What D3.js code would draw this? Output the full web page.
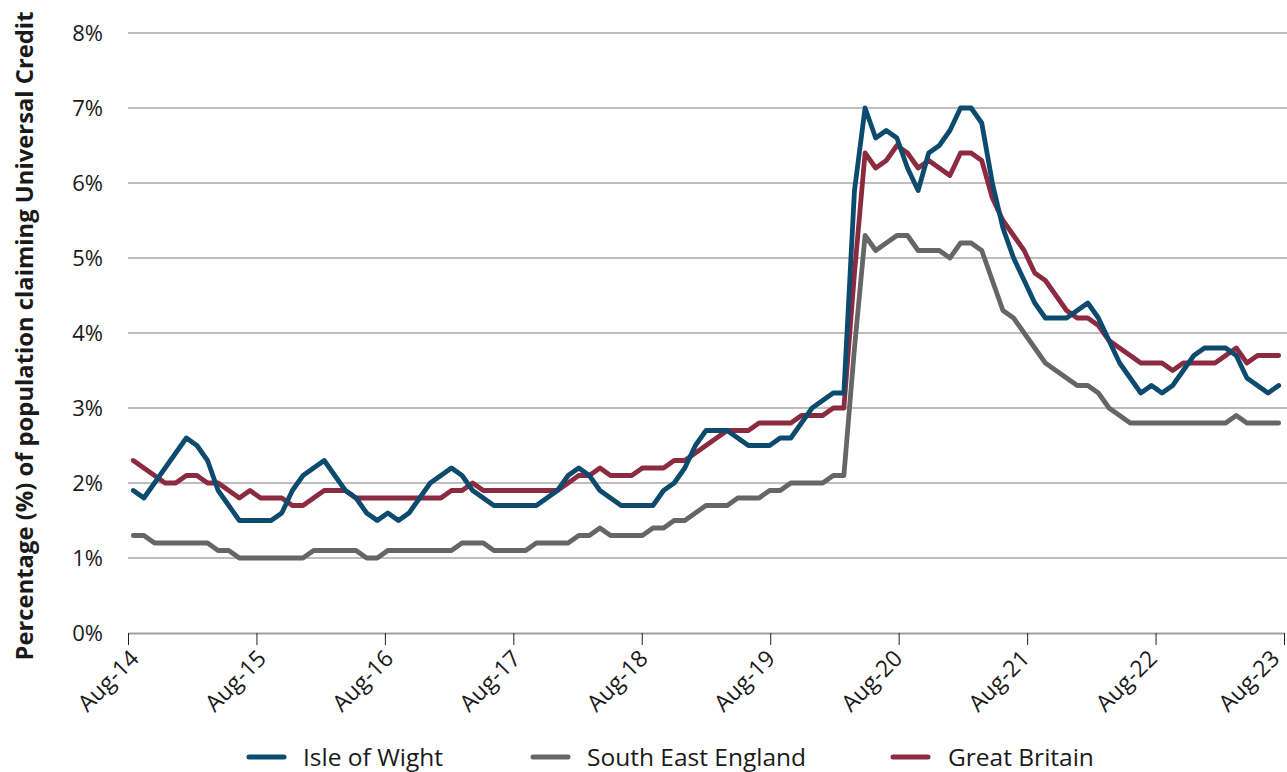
<!DOCTYPE html>
<html>
<head>
<meta charset="utf-8">
<script src="https://cdn.jsdelivr.net/npm/d3@7"></script>
<style>
  html, body { margin: 0; padding: 0; background: #ffffff; }
  svg { display: block; font-family: "Open Sans", "Noto Sans", sans-serif; }
</style>
</head>
<body>
<svg id="chart" width="1287" height="772"></svg>
<script>
// Monthly share of population claiming Universal Credit, Aug-14 to Aug-23 (%)
const tickLabels = ["Aug-14", "Aug-15", "Aug-16", "Aug-17", "Aug-18", "Aug-19", "Aug-20", "Aug-21", "Aug-22", "Aug-23"];
const yTicks = [0, 1, 2, 3, 4, 5, 6, 7, 8];

const isleOfWight = [
  1.9, 1.8, 2.0, 2.2, 2.4, 2.6, 2.5, 2.3, 1.9, 1.7, 1.5, 1.5, 1.5, 1.5, 1.6, 1.9, 2.1, 2.2,
  2.3, 2.1, 1.9, 1.8, 1.6, 1.5, 1.6, 1.5, 1.6, 1.8, 2.0, 2.1, 2.2, 2.1, 1.9, 1.8, 1.7, 1.7,
  1.7, 1.7, 1.7, 1.8, 1.9, 2.1, 2.2, 2.1, 1.9, 1.8, 1.7, 1.7, 1.7, 1.7, 1.9, 2.0, 2.2, 2.5,
  2.7, 2.7, 2.7, 2.6, 2.5, 2.5, 2.5, 2.6, 2.6, 2.8, 3.0, 3.1, 3.2, 3.2, 5.9, 7.0, 6.6, 6.7,
  6.6, 6.2, 5.9, 6.4, 6.5, 6.7, 7.0, 7.0, 6.8, 6.0, 5.4, 5.0, 4.7, 4.4, 4.2, 4.2, 4.2, 4.3,
  4.4, 4.2, 3.9, 3.6, 3.4, 3.2, 3.3, 3.2, 3.3, 3.5, 3.7, 3.8, 3.8, 3.8, 3.7, 3.4, 3.3, 3.2, 3.3
];

const southEastEngland = [
  1.3, 1.3, 1.2, 1.2, 1.2, 1.2, 1.2, 1.2, 1.1, 1.1, 1.0, 1.0, 1.0, 1.0, 1.0, 1.0, 1.0, 1.1,
  1.1, 1.1, 1.1, 1.1, 1.0, 1.0, 1.1, 1.1, 1.1, 1.1, 1.1, 1.1, 1.1, 1.2, 1.2, 1.2, 1.1, 1.1,
  1.1, 1.1, 1.2, 1.2, 1.2, 1.2, 1.3, 1.3, 1.4, 1.3, 1.3, 1.3, 1.3, 1.4, 1.4, 1.5, 1.5, 1.6,
  1.7, 1.7, 1.7, 1.8, 1.8, 1.8, 1.9, 1.9, 2.0, 2.0, 2.0, 2.0, 2.1, 2.1, 3.8, 5.3, 5.1, 5.2,
  5.3, 5.3, 5.1, 5.1, 5.1, 5.0, 5.2, 5.2, 5.1, 4.7, 4.3, 4.2, 4.0, 3.8, 3.6, 3.5, 3.4, 3.3,
  3.3, 3.2, 3.0, 2.9, 2.8, 2.8, 2.8, 2.8, 2.8, 2.8, 2.8, 2.8, 2.8, 2.8, 2.9, 2.8, 2.8, 2.8, 2.8
];

const greatBritain = [
  2.3, 2.2, 2.1, 2.0, 2.0, 2.1, 2.1, 2.0, 2.0, 1.9, 1.8, 1.9, 1.8, 1.8, 1.8, 1.7, 1.7, 1.8,
  1.9, 1.9, 1.9, 1.8, 1.8, 1.8, 1.8, 1.8, 1.8, 1.8, 1.8, 1.8, 1.9, 1.9, 2.0, 1.9, 1.9, 1.9,
  1.9, 1.9, 1.9, 1.9, 1.9, 2.0, 2.1, 2.1, 2.2, 2.1, 2.1, 2.1, 2.2, 2.2, 2.2, 2.3, 2.3, 2.4,
  2.5, 2.6, 2.7, 2.7, 2.7, 2.8, 2.8, 2.8, 2.8, 2.9, 2.9, 2.9, 3.0, 3.0, 4.8, 6.4, 6.2, 6.3,
  6.5, 6.4, 6.2, 6.3, 6.2, 6.1, 6.4, 6.4, 6.3, 5.8, 5.5, 5.3, 5.1, 4.8, 4.7, 4.5, 4.3, 4.2,
  4.2, 4.1, 3.9, 3.8, 3.7, 3.6, 3.6, 3.6, 3.5, 3.6, 3.6, 3.6, 3.6, 3.7, 3.8, 3.6, 3.7, 3.7, 3.7
];

const seriesNames = ["Isle of Wight", "South East England", "Great Britain"];
const seriesColors = ["#0c4a6e", "#666666", "#8c2b40"];

const svgWidth = 1287;
const svg = d3.select("#chart");
const plotLeft = 128, plotRight = 1284, plotTop = 33, plotBottom = 633;

// Each month occupies one slot along the axis; values sit at slot centres.
const x = d3.scaleLinear().domain([-0.5, isleOfWight.length - 0.5]).range([plotLeft, plotRight]);
const xAxisScale = d3.scalePoint().domain(tickLabels).range([plotLeft, plotRight]);
const y = d3.scaleLinear().domain([0, 8]).range([plotBottom, plotTop]);

// Horizontal gridlines
svg.append("g")
  .selectAll("line")
  .data(yTicks.filter(d => d > 0))
  .join("line")
  .attr("x1", plotLeft).attr("x2", svgWidth)
  .attr("y1", d => y(d)).attr("y2", d => y(d))
  .attr("stroke", "#a9a9a9").attr("stroke-width", 1.5);

// Y tick labels
svg.append("g")
  .selectAll("text")
  .data(yTicks)
  .join("text")
  .attr("x", 103)
  .attr("y", d => y(d))
  .attr("dy", "0.35em")
  .attr("text-anchor", "end")
  .attr("font-size", 22)
  .attr("fill", "#1a1a1a")
  .text(d => d + "%");

// X axis: tick marks evenly spaced below the baseline
const xAxis = svg.append("g")
  .attr("transform", `translate(0,${plotBottom})`)
  .call(d3.axisBottom(xAxisScale).tickSize(12).tickSizeOuter(0).tickFormat(""));
xAxis.select(".domain").attr("stroke", "#a0a0a0").attr("stroke-width", 2);
xAxis.selectAll(".tick line").attr("stroke", "#222").attr("stroke-width", 1);

// Month labels sit at the August of each year, rotated; keep them inside the frame
const monthLabels = svg.append("g")
  .selectAll("text")
  .data(tickLabels)
  .join("text")
  .attr("text-anchor", "end")
  .attr("font-size", 23)
  .attr("fill", "#1a1a1a")
  .text(d => d);
monthLabels.each(function (d, k) {
  let ax = x(k * 12) + 7;
  const el = d3.select(this);
  el.attr("transform", `translate(${ax},${plotBottom + 27}) rotate(-45)`);
  const box = this.getBoundingClientRect();
  if (box.right > svgWidth - 1) {
    ax -= box.right - (svgWidth - 1);
    el.attr("transform", `translate(${ax},${plotBottom + 27}) rotate(-45)`);
  }
});

// Series lines: drawn so the Isle of Wight line sits on top
const lineGen = d3.line().x((d, i) => x(i)).y(d => y(d)).curve(d3.curveLinear);
const seriesData = [isleOfWight, southEastEngland, greatBritain];
[2, 1, 0].forEach(k => {
  svg.append("path")
    .datum(seriesData[k])
    .attr("d", lineGen)
    .attr("fill", "none")
    .attr("stroke", seriesColors[k])
    .attr("stroke-width", 4.8)
    .attr("stroke-linejoin", "round")
    .attr("stroke-linecap", "round");
});

// Y axis title
svg.append("text")
  .attr("transform", "translate(33,336) rotate(-90)")
  .attr("text-anchor", "middle")
  .attr("font-size", 23.8)
  .attr("font-weight", "bold")
  .attr("fill", "#1a1a1a")
  .text("Percentage (%) of population claiming Universal Credit");

// Legend
const legendSwatch = [247, 531, 891];
const legendText = [303, 587, 948];
const legend = svg.append("g");
seriesNames.forEach((name, k) => {
  legend.append("line")
    .attr("x1", legendSwatch[k] + 2).attr("x2", legendSwatch[k] + 37)
    .attr("y1", 757).attr("y2", 757)
    .attr("stroke", seriesColors[k])
    .attr("stroke-width", 5)
    .attr("stroke-linecap", "round");
  legend.append("text")
    .attr("x", legendText[k])
    .attr("y", 757)
    .attr("dy", "0.35em")
    .attr("font-size", 24.5)
    .attr("fill", "#1a1a1a")
    .text(name);
});
</script>
</body>
</html>
